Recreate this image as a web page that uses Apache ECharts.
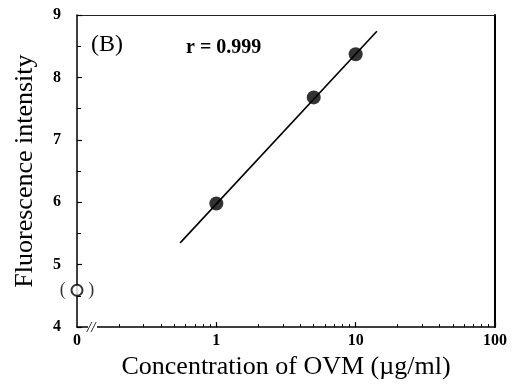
<!DOCTYPE html>
<html>
<head>
<meta charset="utf-8">
<script src="https://cdn.jsdelivr.net/npm/echarts@6/dist/echarts.min.js"></script>
<style>html,body{margin:0;padding:0;background:#fff;}#c{width:517px;height:385px;}</style>
</head>
<body>
<div id="c"></div>
<script>
// Data
const concentrations = [1, 5, 10];            // µg/ml
const intensities = [5.98, 7.68, 8.37];
const blankConc = [0];                         // blank (shown at axis break)
const blankIntensity = [4.59];
const fitX = [0.55, 14.2];
const fitY = [5.35, 8.74];
const xMajorTicks = [1, 10, 100];
const xMinorTicks = [0.2,0.3,0.4,0.5,0.6,0.7,0.8,0.9,2,3,4,5,6,7,8,9,20,30,40,50,60,70,80,90];
const xLabelValues = [0.1, 1, 10, 100];
const yTicks = [4, 5, 6, 7, 8, 9];
const xMin = 0.1, xMax = 100;

const serif = 'Liberation Serif';
const chart = echarts.init(document.getElementById('c'), null, {renderer: 'canvas'});
const blankData = blankConc.map((c, i) => [c === 0 ? xMin : c, blankIntensity[i]]);

chart.setOption({
  animation: false,
  backgroundColor: '#fff',
  grid: {left: 77, right: 22, top: 15, bottom: 55, containLabel: false},
  xAxis: [
    {
      type: 'log', logBase: 10, min: xMin, max: xMax, gridIndex: 0,
      name: 'Concentration of OVM (\u00b5g/ml)', nameLocation: 'middle', nameGap: 24,
      nameTextStyle: {fontFamily: serif, fontSize: 26, color: '#000'},
      axisLine: {show: true, lineStyle: {color: '#000', width: 1.5}},
      axisTick: {show: true, inside: true, length: 3, customValues: xMinorTicks, lineStyle: {color: '#000', width: 1}},
      axisLabel: {show: true, customValues: xLabelValues, margin: 6, fontFamily: serif, fontSize: 16, fontWeight: 'bold', color: '#000',
        formatter: v => (Math.abs(v - xMin) < 1e-9 ? '0' : String(Math.round(v)))},
      splitLine: {show: false}, minorTick: {show: false}
    },
    {
      type: 'log', logBase: 10, min: xMin, max: xMax, gridIndex: 0, position: 'bottom',
      axisLine: {show: false},
      axisTick: {show: true, inside: true, length: 5, customValues: xMajorTicks, lineStyle: {color: '#000', width: 1.2}},
      axisLabel: {show: false}, splitLine: {show: false}
    },
    {
      type: 'log', logBase: 10, min: xMin, max: xMax, gridIndex: 0, position: 'top',
      axisLine: {show: true, lineStyle: {color: '#222', width: 1}},
      axisTick: {show: false}, axisLabel: {show: false}, splitLine: {show: false}
    }
  ],
  yAxis: [
    {
      type: 'value', min: 4, max: 9, interval: 1,
      name: 'Fluorescence intensity', nameLocation: 'middle', nameGap: 39,
      nameTextStyle: {fontFamily: serif, fontSize: 26, color: '#000'},
      axisLine: {show: true, lineStyle: {color: '#000', width: 1.5}},
      axisTick: {show: true, inside: true, length: 5, lineStyle: {color: '#000', width: 1.2}},
      minorTick: {show: true, splitNumber: 2, length: 4, lineStyle: {color: '#000', width: 1}},
      axisLabel: {margin: 16, fontFamily: serif, fontSize: 16, fontWeight: 'bold', color: '#000'},
      splitLine: {show: false}
    },
    {
      type: 'value', min: 4, max: 9, position: 'right',
      axisLine: {show: true, lineStyle: {color: '#000', width: 2}},
      axisTick: {show: false}, axisLabel: {show: false}, splitLine: {show: false}
    }
  ],
  series: [
    {
      type: 'line', xAxisIndex: 0, yAxisIndex: 0,
      data: fitX.map((x, i) => [x, fitY[i]]),
      showSymbol: false, symbol: 'none',
      lineStyle: {color: '#000', width: 1.6}
    },
    {
      type: 'scatter', xAxisIndex: 0, yAxisIndex: 0,
      data: concentrations.map((c, i) => [c, intensities[i]]),
      symbol: 'circle', symbolSize: 14,
      itemStyle: {color: '#000'}
    },
    {
      type: 'scatter', xAxisIndex: 0, yAxisIndex: 0, clip: false,
      data: blankData,
      symbol: 'circle', symbolSize: 11,
      itemStyle: {color: '#fff', borderColor: '#000', borderWidth: 2},
      label: {show: true, position: 'inside', formatter: '(     )', fontFamily: serif, fontSize: 18, color: '#000'},
      z: 5
    }
  ],
  graphic: [
    {type: 'rect', left: 88, top: 324, shape: {width: 9, height: 10}, style: {fill: '#fff'}, z: 100},
    {type: 'text', left: 87, top: 321, style: {text: '//', font: 'italic 15px "Liberation Serif"', fill: '#000'}, z: 101},
    {type: 'text', left: 91, top: 33, style: {text: '(B)', font: '24px "Liberation Serif"', fill: '#000'}, z: 50},
    {type: 'text', left: 186, top: 38, style: {text: 'r = 0.999', font: 'bold 20px "Liberation Serif"', fill: '#000'}, z: 50}
  ]
});
</script>
</body>
</html>
